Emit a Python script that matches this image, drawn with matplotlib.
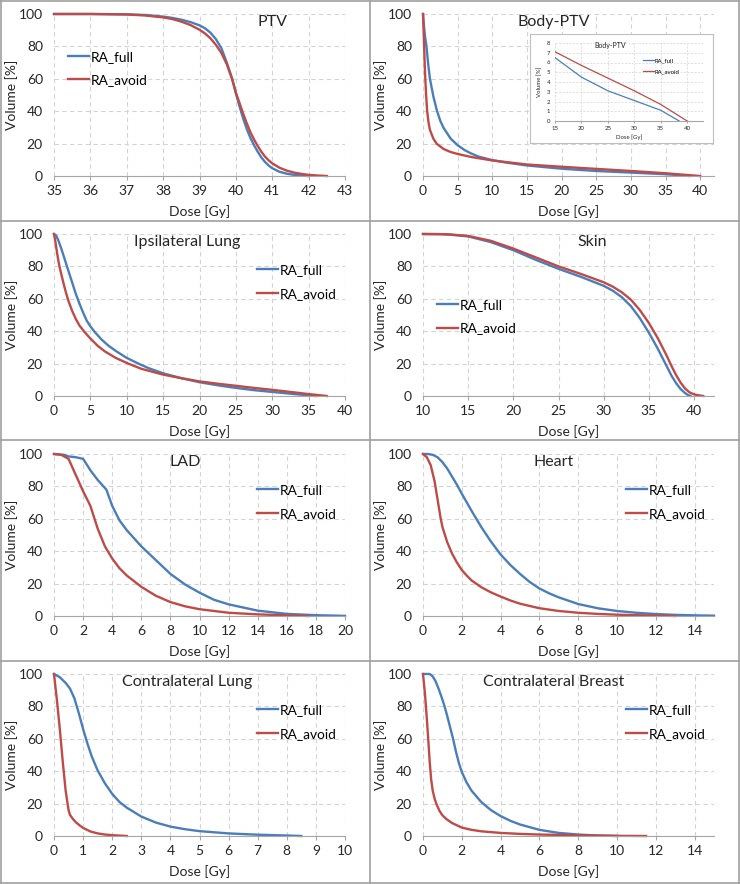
import matplotlib
matplotlib.use("Agg")
import matplotlib.pyplot as plt
from matplotlib.lines import Line2D

plt.rcParams['font.family'] = ['Lato', 'DejaVu Sans']

BLUE = '#4a7ebb'
RED = '#be4b48'
GRID = '#d4d4d4'
AXIS = '#a6a6a6'
TXT = '#262626'

# ---- DVH data, dose [Gy] / volume [%] ----
ptv_dose_full = [35, 36, 37, 37.5, 38, 38.25, 38.5, 38.75, 39, 39.15, 39.3, 39.45, 39.6, 39.75, 39.9, 40.0,
                 40.1, 40.2, 40.3, 40.4, 40.5, 40.6, 40.7, 40.8, 40.9, 41.0, 41.2, 41.4, 41.6, 41.8, 42]
ptv_vol_full = [100, 100, 99.8, 99.4, 98.4, 97.6, 96.5, 95, 93, 91.2, 88.5, 84.5, 79, 70, 60, 51,
                43, 35.5, 29, 23.5, 19, 15, 11.5, 8.7, 6.5, 4.8, 2.6, 1.4, 0.7, 0.3, 0]
ptv_dose_avoid = [35, 36, 37, 37.5, 38, 38.25, 38.5, 38.75, 39, 39.15, 39.3, 39.45, 39.6, 39.75, 39.9, 40.0,
                  40.1, 40.2, 40.3, 40.4, 40.5, 40.6, 40.7, 40.8, 40.9, 41.0, 41.2, 41.4, 41.6, 41.8, 42, 42.25, 42.5]
ptv_vol_avoid = [100, 100, 99.7, 99.1, 97.9, 96.9, 95.3, 93.2, 90.3, 88, 85, 81, 76, 69, 59.5, 51.5,
                 45, 38.5, 32.5, 27, 22.5, 18.5, 15, 12, 9.7, 7.8, 5.1, 3.3, 2.1, 1.3, 0.7, 0.3, 0]

body_dose_full = [0, 0.15, 0.3, 0.5, 0.75, 1, 1.5, 2, 2.5, 3, 4, 5, 6, 7, 8, 10, 12, 15, 20, 25, 30, 35, 38.5]
body_vol_full = [100, 92, 86, 80, 69, 60, 49, 40.5, 34, 29.5, 23, 19, 16, 13.8, 12, 9.8, 8.3, 6.5, 4.5, 3.1, 2.1, 1.1, 0]
body_dose_avoid = [0, 0.1, 0.2, 0.3, 0.45, 0.6, 0.8, 1, 1.5, 2, 3, 4, 5, 7, 10, 12, 15, 20, 25, 30, 35, 40]
body_vol_avoid = [100, 88, 75, 63, 50, 40, 33, 28.5, 23, 19.8, 16.6, 14.8, 13.6, 11.7, 9.6, 8.6, 7.1, 5.7, 4.4, 3.1, 1.7, 0]

ipsi_dose_full = [0, 0.3, 0.6, 1, 1.5, 2, 2.5, 3, 3.5, 4, 4.5, 5, 5.6, 6.5, 7.5, 8.5, 10, 11.6, 13, 15,
                  17.5, 20, 22.5, 25, 27.5, 30, 33, 36]
ipsi_vol_full = [100, 99, 96, 91, 84, 77, 70, 63, 57, 51.5, 46.5, 43, 39.5, 35, 31, 27.8, 23.5, 20, 17.2, 14,
                 11, 8.5, 6.6, 5, 3.6, 2.5, 1.2, 0]
ipsi_dose_avoid = [0, 0.2, 0.4, 0.6, 0.8, 1.2, 1.6, 2, 2.5, 3, 3.5, 4.2, 5, 6, 7, 8.5, 10.2, 12, 15, 17.5,
                   20, 22.5, 25, 27.5, 30, 32.5, 35, 37.5]
ipsi_vol_avoid = [100, 95, 89, 83.5, 79, 71.5, 64.5, 58.5, 52.5, 47.5, 43.5, 39.5, 35.5, 31, 27.5, 23.5, 20, 16.8, 13.2, 11,
                  9, 7.6, 6.3, 5, 3.8, 2.5, 1.2, 0]

skin_dose_full = [10, 12, 13, 15, 17.5, 20, 22.5, 25, 27.5, 30, 31, 32, 33, 34, 35, 36, 37, 37.5, 38, 38.5, 39, 39.3, 39.6]
skin_vol_full = [100, 99.9, 99.6, 98.5, 95, 90, 84, 78.5, 73.5, 68, 65, 61, 55.5, 48, 39, 29, 18, 12.5, 8, 4.3, 1.8, 0.7, 0]
skin_dose_avoid = [10, 12, 13, 15, 17.5, 20, 22.5, 25, 27.5, 30, 31, 32, 33, 34, 35, 36, 37, 37.5, 38, 38.5, 39, 39.5, 40, 40.5, 41]
skin_vol_avoid = [100, 99.9, 99.7, 98.8, 95.8, 91, 85.5, 80, 75.3, 70.2, 67.5, 64, 59.5, 53, 45, 35.5, 24.5, 18.5, 13, 8.3, 4.6, 2.2, 1, 0.4, 0]

lad_dose_full = [0, 0.7, 1, 1.5, 2, 2.5, 3, 3.6, 4, 4.5, 5, 6, 7, 8, 9, 10, 11, 12, 14, 16, 18, 20]
lad_vol_full = [100, 99.5, 98.5, 98, 97, 90, 84, 78, 68, 59, 53, 43, 34.5, 26, 19.5, 14.4, 10, 7.2, 3.3, 1.3, 0.5, 0.1]
lad_dose_avoid = [0, 0.5, 1, 1.5, 2, 2.5, 3, 3.5, 4, 4.5, 5, 6, 7, 8, 9, 10, 12, 14, 16, 17.5]
lad_vol_avoid = [100, 99.5, 97, 87, 77, 68, 54, 43, 35.5, 29.5, 25, 18, 12.5, 8.6, 6, 4.2, 2, 1, 0.4, 0]

heart_dose_full = [0, 0.25, 0.5, 0.75, 1, 1.25, 1.5, 1.75, 2, 2.5, 3, 3.5, 4, 4.5, 5, 5.5, 6, 6.5, 7,
                   8, 9, 10, 11, 12, 13, 14, 15]
heart_vol_full = [100, 100, 99.5, 98, 95, 91, 86, 81, 75.5, 65, 55, 46, 38, 31.5, 26, 21, 17, 14, 11.5,
                  7.4, 4.8, 3.1, 2, 1.2, 0.7, 0.4, 0.2]
heart_dose_avoid = [0, 0.2, 0.4, 0.6, 0.75, 0.9, 1, 1.25, 1.5, 1.75, 2, 2.25, 2.5, 3, 3.5, 4, 4.5, 5, 6, 7, 8,
                    9, 10, 11, 12, 13]
heart_vol_avoid = [100, 98, 93, 83, 72, 61, 55, 45.5, 38.5, 33, 28.4, 25, 22, 17.8, 14.6, 12, 9.6, 7.6, 4.8, 3.1, 2,
                   1.3, 0.8, 0.5, 0.3, 0]

clung_dose_full = [0, 0.2, 0.4, 0.55, 0.7, 0.85, 1, 1.15, 1.3, 1.5, 1.75, 2, 2.25, 2.5, 3, 3.5, 4, 4.5, 5,
                   6, 7, 8, 8.5]
clung_vol_full = [100, 98, 94.5, 91, 85, 76, 66, 57, 49, 40.5, 32.5, 26, 21, 17.5, 12, 8.3, 5.8, 4.2, 3,
                  1.6, 0.8, 0.3, 0]
clung_dose_avoid = [0, 0.1, 0.2, 0.3, 0.4, 0.5, 0.55, 0.65, 0.75, 0.9, 1, 1.25, 1.5, 1.75, 2, 2.5]
clung_vol_avoid = [100, 84, 66, 46, 28, 16, 13, 10.5, 8.5, 6.3, 5, 2.8, 1.6, 0.9, 0.5, 0]

cbreast_dose_full = [0, 0.35, 0.5, 0.65, 0.8, 0.95, 1.1, 1.25, 1.4, 1.55, 1.7, 1.85, 2, 2.25, 2.5, 3, 3.5,
                     4, 4.5, 5, 6, 7, 8, 9, 10]
cbreast_vol_full = [100, 100, 98.5, 95.5, 91, 86, 80.5, 74, 67, 60, 52, 45, 39.5, 33, 28, 21, 16,
                    12.3, 9.4, 7.1, 3.8, 1.9, 0.9, 0.3, 0]
cbreast_dose_avoid = [0, 0.1, 0.2, 0.28, 0.35, 0.42, 0.5, 0.6, 0.7, 0.85, 1, 1.2, 1.5, 2, 2.5, 3, 4, 5, 6,
                      8, 10, 11.5]
cbreast_vol_avoid = [100, 88, 72, 58, 45, 35, 28, 23, 19.5, 15.5, 12.8, 10.5, 8, 5.2, 3.8, 2.9, 1.9, 1.3, 0.9,
                     0.4, 0.1, 0]

panels = [
    # title, full, avoid, xlim, xticks, title_x, legend (x, y)
    ('PTV', (ptv_dose_full, ptv_vol_full), (ptv_dose_avoid, ptv_vol_avoid),
     (35, 43), range(35, 44), 0.75, (0.048, 0.664)),
    ('Body-PTV', (body_dose_full, body_vol_full), (body_dose_avoid, body_vol_avoid),
     (0, 42), range(0, 41, 5), 0.45, None),
    ('Ipsilateral Lung', (ipsi_dose_full, ipsi_vol_full), (ipsi_dose_avoid, ipsi_vol_avoid),
     (0, 40), range(0, 41, 5), 0.457, (0.698, 0.704)),
    ('Skin', (skin_dose_full, skin_vol_full), (skin_dose_avoid, skin_vol_avoid),
     (10, 42.2), range(10, 41, 5), 0.58, (0.048, 0.49)),
    ('LAD', (lad_dose_full, lad_vol_full), (lad_dose_avoid, lad_vol_avoid),
     (0, 20), range(0, 21, 2), 0.45, (0.698, 0.704)),
    ('Heart', (heart_dose_full, heart_vol_full), (heart_dose_avoid, heart_vol_avoid),
     (0, 15), range(0, 15, 2), 0.45, (0.698, 0.704)),
    ('Contralateral Lung', (clung_dose_full, clung_vol_full), (clung_dose_avoid, clung_vol_avoid),
     (0, 10), range(0, 11), 0.457, (0.698, 0.704)),
    ('Contralateral Breast', (cbreast_dose_full, cbreast_vol_full), (cbreast_dose_avoid, cbreast_vol_avoid),
     (0, 15), range(0, 15, 2), 0.45, (0.698, 0.704)),
]

W, H = 740, 884
fig = plt.figure(figsize=(W / 100, H / 100), dpi=100)


def px_axes(x0, y0, x1, y1):
    return fig.add_axes([x0 / W, 1 - y1 / H, (x1 - x0) / W, (y1 - y0) / H])


def style(ax, fs):
    for s in ('left', 'top', 'right'):
        ax.spines[s].set_visible(False)
    ax.spines['bottom'].set_color(AXIS)
    ax.grid(True, color=GRID, linestyle=(0, (4, 3)), linewidth=0.8)
    ax.set_axisbelow(True)
    ax.tick_params(axis='y', length=0, labelsize=fs, labelcolor=TXT, pad=fs * 0.8)
    ax.tick_params(axis='x', length=3, color=AXIS, labelsize=fs, labelcolor=TXT)


for i, (title, full, avoid, xlim, xticks, tx, leg) in enumerate(panels):
    r, c = divmod(i, 2)
    x0 = c * 370 + (54 if c == 0 else 53)
    y0 = r * 220 + 14
    ax = px_axes(x0, y0, x0 + 291, y0 + 162)
    ax.plot(*full, color=BLUE, lw=1.7, label='RA_full', clip_on=False)
    ax.plot(*avoid, color=RED, lw=1.7, label='RA_avoid', clip_on=False)
    ax.set_xlim(*xlim)
    ax.set_ylim(0, 100)
    ax.set_xticks(list(xticks))
    ax.set_yticks(range(0, 101, 20))
    style(ax, 10)
    ax.set_xlabel('Dose [Gy]', fontsize=10, color=TXT)
    ax.set_ylabel('Volume [%]', fontsize=10, color=TXT)
    ax.xaxis.set_label_coords(0.5, -0.18)
    ax.yaxis.set_label_coords(-0.122, 0.5)
    ax.text(tx, 0.95, title, transform=ax.transAxes, ha='center', va='center',
            fontsize=11.5, color=TXT)
    if leg is not None:
        ax.legend(loc='center left', bbox_to_anchor=leg, frameon=False, fontsize=9.8,
                  borderpad=0, borderaxespad=0, handlelength=1.55, handletextpad=0.12,
                  labelspacing=0.85)
    if title == 'Body-PTV':
        # zoomed inset of the tail
        frame = px_axes(530, 34, 713, 143)
        frame.set_xticks([])
        frame.set_yticks([])
        for s in frame.spines.values():
            s.set_color('#bfbfbf')
            s.set_linewidth(0.8)
        ins = px_axes(555, 43, 703, 121)
        ins.plot(*full, color=BLUE, lw=0.9, label='RA_full')
        ins.plot(*avoid, color=RED, lw=0.9, label='RA_avoid')
        ins.set_xlim(15, 43)
        ins.set_ylim(0, 8)
        ins.set_xticks(range(15, 41, 5))
        ins.set_yticks(range(0, 9))
        style(ins, 4.3)
        ins.tick_params(axis='x', length=1.5, pad=2)
        ins.grid(True, color=GRID, linestyle=(0, (3, 2)), linewidth=0.5)
        ins.set_xlabel('Dose [Gy]', fontsize=4.3, color=TXT)
        ins.set_ylabel('Volume [%]', fontsize=4.3, color=TXT)
        ins.xaxis.set_label_coords(0.5, -0.17)
        ins.yaxis.set_label_coords(-0.085, 0.5)
        ins.text(0.37, 0.97, 'Body-PTV', transform=ins.transAxes, ha='center',
                 va='center', fontsize=5, color=TXT)
        ins.legend(loc='center left', bbox_to_anchor=(0.595, 0.705), frameon=False,
                   fontsize=4.3, borderpad=0, borderaxespad=0, handlelength=1.8,
                   handletextpad=0.15, labelspacing=1.0)

# panel dividers and outer frame
lines = [
    ((370, 370), (0, H)),
    ((0, W), (221, 221)),
    ((0, W), (440, 440)),
    ((0, W), (661, 661)),
    ((1, 1), (0, H)), ((W - 1, W - 1), (0, H)),
    ((0, W), (1, 1)), ((0, W), (H - 1, H - 1)),
]
for xs, ys in lines:
    fig.add_artist(Line2D([x / W for x in xs], [1 - y / H for y in ys],
                          color='#a0a0a0', lw=1.2))

fig.savefig('out.png', dpi=100)
